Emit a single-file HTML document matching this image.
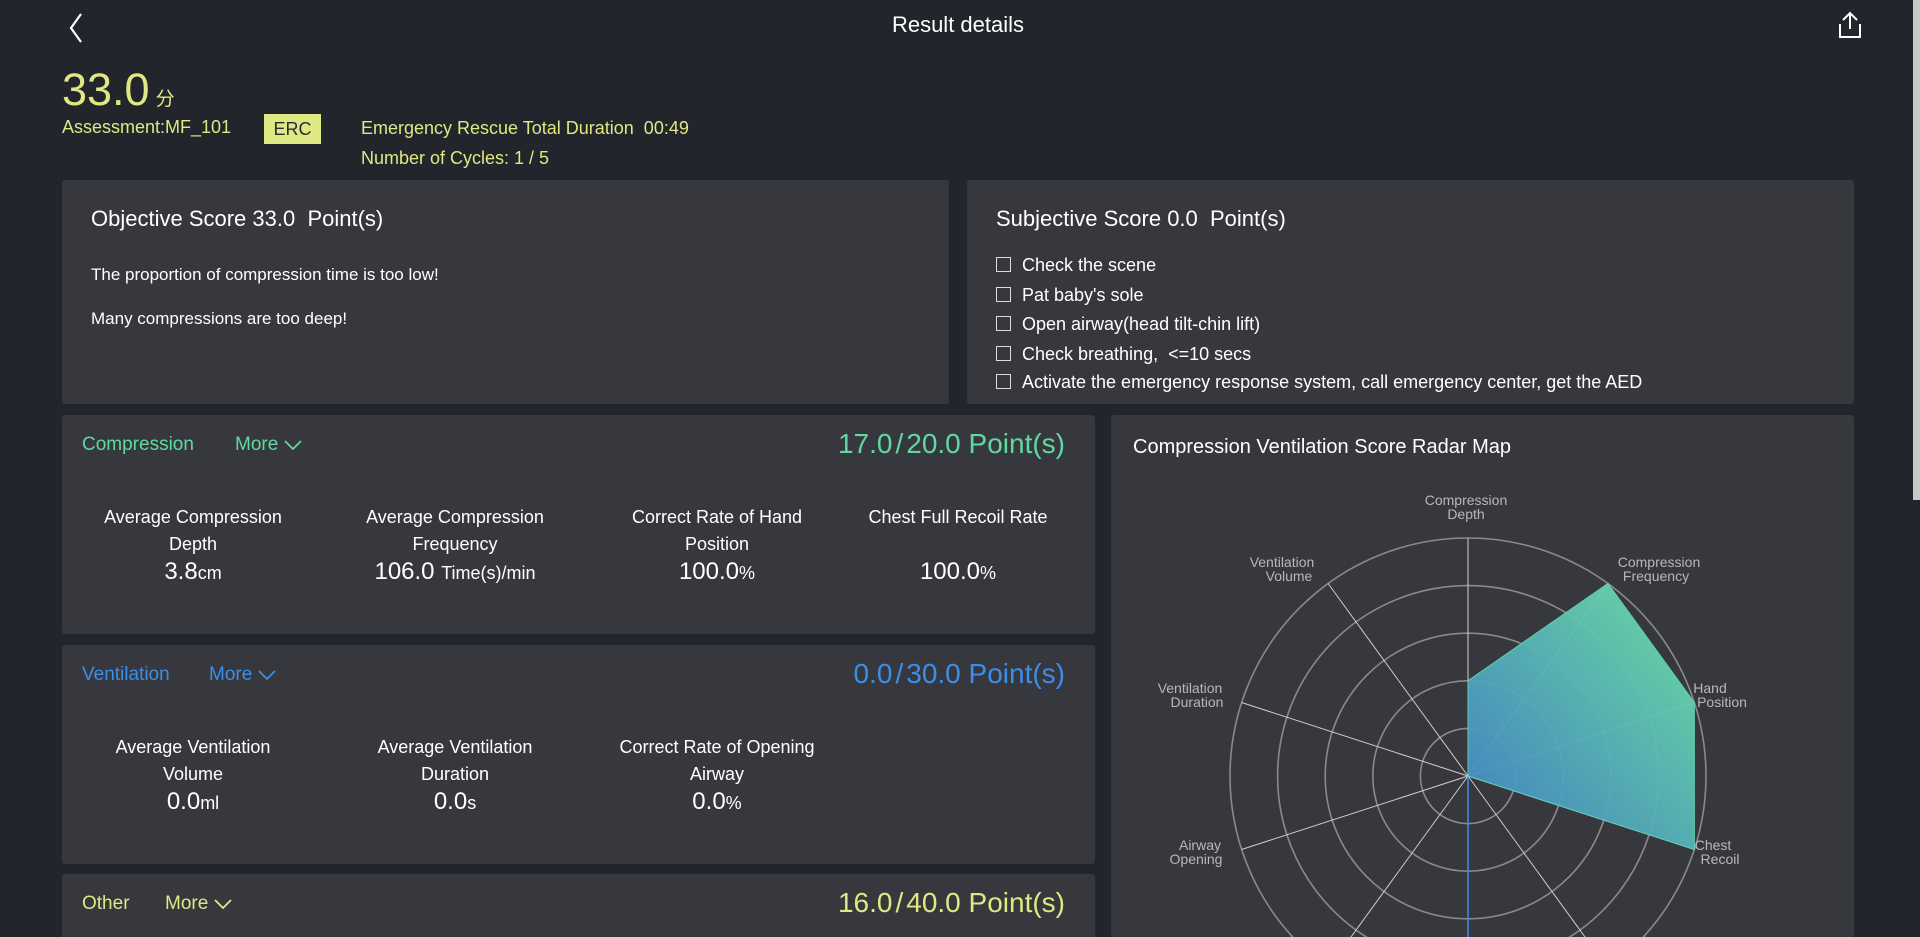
<!DOCTYPE html>
<html><head><meta charset="utf-8"><style>
*{margin:0;padding:0;box-sizing:border-box}
html,body{width:1920px;height:937px;overflow:hidden}
body{background:#22252c;font-family:"Liberation Sans","Noto Sans CJK SC",sans-serif;color:#fff;position:relative}
.a{position:absolute;white-space:nowrap}
.p{position:absolute;background:#37383e;border-radius:3px}
.y{color:#dfe882}
.c{text-align:center;transform:translateX(-50%)}
.lab{font-size:18px;line-height:27px}
.val{font-size:24px;line-height:28px}
.val small{font-size:18px}
.cb{position:absolute;width:15px;height:15px;border:1.5px solid #ddd}
.ck{position:absolute;left:1022px;font-size:18px;line-height:22px;height:22px;white-space:nowrap}
.h{font-size:19px;line-height:24px}
.mv svg{margin-left:6px;vertical-align:middle}
</style></head><body>
<svg class="a" style="left:66px;top:12px" width="20" height="32"><polyline points="15,2 5,16 15,30" fill="none" stroke="#fff" stroke-width="2.2"/></svg>
<div class="a" style="left:0;width:1916px;top:12px;text-align:center;font-size:22px;line-height:26px">Result details</div>
<svg class="a" style="left:1836px;top:10px" width="28" height="30"><polyline points="7,10 14,3 21,10" fill="none" stroke="#fff" stroke-width="2"/><line x1="14" y1="3" x2="14" y2="19" stroke="#fff" stroke-width="2"/><polyline points="4,14 4,27 24,27 24,14" fill="none" stroke="#fff" stroke-width="2"/></svg>
<div class="a" style="left:1913px;top:0;width:7px;height:500px;background:#c8c8c8"></div>

<div class="a y" style="left:62px;top:64px;font-size:45px;line-height:52px">33.0<span style="font-size:19px;margin-left:6px">分</span></div>
<div class="a y" style="left:62px;top:116px;font-size:18px;line-height:22px">Assessment:MF_101</div>
<div class="a" style="left:264px;top:114px;width:57px;height:30px;background:#dfe882;color:#2a2c30;font-size:18px;text-align:center;line-height:30px">ERC</div>
<div class="a y" style="left:361px;top:117px;font-size:18px;line-height:22px">Emergency Rescue Total Duration&nbsp; 00:49</div>
<div class="a y" style="left:361px;top:147px;font-size:18px;line-height:22px">Number of Cycles: 1 / 5</div>

<div class="p" style="left:62px;top:180px;width:887px;height:224px"></div>
<div class="a" style="left:91px;top:206px;font-size:22px;line-height:26px">Objective Score 33.0&nbsp; Point(s)</div>
<div class="a" style="left:91px;top:264px;font-size:17px;line-height:21px">The proportion of compression time is too low!</div>
<div class="a" style="left:91px;top:308px;font-size:17px;line-height:21px">Many compressions are too deep!</div>

<div class="p" style="left:967px;top:180px;width:887px;height:224px"></div>
<div class="a" style="left:996px;top:206px;font-size:22px;line-height:26px">Subjective Score 0.0&nbsp; Point(s)</div>
<div class="cb" style="left:996px;top:257px"></div><div class="ck" style="top:254px">Check the scene</div>
<div class="cb" style="left:996px;top:287px"></div><div class="ck" style="top:284px">Pat baby's sole</div>
<div class="cb" style="left:996px;top:316px"></div><div class="ck" style="top:313px">Open airway(head tilt-chin lift)</div>
<div class="cb" style="left:996px;top:346px"></div><div class="ck" style="top:343px">Check breathing,&nbsp; &lt;=10 secs</div>
<div class="cb" style="left:996px;top:374px"></div><div class="ck" style="top:371px">Activate the emergency response system, call emergency center, get the AED</div>

<div class="p" style="left:62px;top:415px;width:1033px;height:219px"></div>
<div class="a h" style="left:82px;top:433px;color:#5fd9a0">Compression</div>
<div class="a h mv" style="left:235px;top:433px;color:#5fd9a0">More<svg width="18" height="12"><polyline points="1,2 9,10 17,2" fill="none" stroke="#5fd9a0" stroke-width="1.8"/></svg></div>
<div class="a" style="right:855px;top:428px;font-size:28px;line-height:32px;color:#5fd9a0">17.0<span style="margin:0 3px">/</span>20.0 Point(s)</div>
<div class="a c lab" style="left:193px;top:504px">Average Compression<br>Depth</div>
<div class="a c val" style="left:193px;top:558px">3.8<small>cm</small></div>
<div class="a c lab" style="left:455px;top:504px">Average Compression<br>Frequency</div>
<div class="a c val" style="left:455px;top:558px">106.0 <small>Time(s)/min</small></div>
<div class="a c lab" style="left:717px;top:504px">Correct Rate of Hand<br>Position</div>
<div class="a c val" style="left:717px;top:558px">100.0<small>%</small></div>
<div class="a c lab" style="left:958px;top:504px">Chest Full Recoil Rate</div>
<div class="a c val" style="left:958px;top:558px">100.0<small>%</small></div>

<div class="p" style="left:62px;top:645px;width:1033px;height:219px"></div>
<div class="a h" style="left:82px;top:663px;color:#3b8eea">Ventilation</div>
<div class="a h mv" style="left:209px;top:663px;color:#3b8eea">More<svg width="18" height="12"><polyline points="1,2 9,10 17,2" fill="none" stroke="#3b8eea" stroke-width="1.8"/></svg></div>
<div class="a" style="right:855px;top:658px;font-size:28px;line-height:32px;color:#3b8eea">0.0<span style="margin:0 3px">/</span>30.0 Point(s)</div>
<div class="a c lab" style="left:193px;top:734px">Average Ventilation<br>Volume</div>
<div class="a c val" style="left:193px;top:788px">0.0<small>ml</small></div>
<div class="a c lab" style="left:455px;top:734px">Average Ventilation<br>Duration</div>
<div class="a c val" style="left:455px;top:788px">0.0<small>s</small></div>
<div class="a c lab" style="left:717px;top:734px">Correct Rate of Opening<br>Airway</div>
<div class="a c val" style="left:717px;top:788px">0.0<small>%</small></div>

<div class="p" style="left:62px;top:874px;width:1033px;height:63px;border-radius:3px 3px 0 0"></div>
<div class="a y h" style="left:82px;top:892px">Other</div>
<div class="a y h mv" style="left:165px;top:892px">More<svg width="18" height="12"><polyline points="1,2 9,10 17,2" fill="none" stroke="#dfe882" stroke-width="1.8"/></svg></div>
<div class="a y" style="right:855px;top:887px;font-size:28px;line-height:32px">16.0<span style="margin:0 3px">/</span>40.0 Point(s)</div>

<div class="p" style="left:1111px;top:415px;width:743px;height:522px;border-radius:3px 3px 0 0"></div>
<div class="a" style="left:1133px;top:435px;font-size:20px;line-height:24px">Compression Ventilation Score Radar Map</div>
<svg class="a" style="left:0;top:0" width="1920" height="937">
<defs><linearGradient id="g" x1="1" y1="0" x2="0" y2="1"><stop offset="0" stop-color="#6fe3a6"/><stop offset="1" stop-color="#3f83c9"/></linearGradient></defs>
<g transform="translate(1468,776)" fill="none">
<g stroke="#8a8a8a" stroke-width="1.6">
<circle r="47.6"/><circle r="95.2"/><circle r="142.8"/><circle r="190.4"/><circle r="238"/></g>
<g stroke="#cfcfcf" stroke-width="1">
<line x1="0" y1="0" x2="0" y2="-238"/><line x1="0" y1="0" x2="139.9" y2="-192.5"/><line x1="0" y1="0" x2="226.4" y2="-73.5"/><line x1="0" y1="0" x2="226.4" y2="73.5"/><line x1="0" y1="0" x2="139.9" y2="192.5"/><line x1="0" y1="0" x2="-139.9" y2="192.5"/><line x1="0" y1="0" x2="-226.4" y2="73.5"/><line x1="0" y1="0" x2="-226.4" y2="-73.5"/><line x1="0" y1="0" x2="-139.9" y2="-192.5"/></g>
<line x1="0" y1="0" x2="0" y2="238" stroke="#3b8eea" stroke-width="1.5"/>
<polygon points="0,0 0,-95.2 139.9,-192.5 226.4,-73.5 226.4,73.5" fill="url(#g)" fill-opacity="0.95" stroke="#5fcfb0" stroke-width="1"/>
</g>
<g font-family="Liberation Sans,sans-serif" font-size="14" fill="#b8b8b8" text-anchor="middle">
<text x="1466" y="505">Compression</text><text x="1466" y="519">Depth</text>
<text x="1282" y="567">Ventilation</text><text x="1289" y="581">Volume</text>
<text x="1659" y="567">Compression</text><text x="1656" y="581">Frequency</text>
<text x="1190" y="693">Ventilation</text><text x="1197" y="707">Duration</text>
<text x="1710" y="693">Hand</text><text x="1722" y="707">Position</text>
<text x="1200" y="850">Airway</text><text x="1196" y="864">Opening</text>
<text x="1713" y="850">Chest</text><text x="1720" y="864">Recoil</text>
</g>
</svg>
</body></html>
